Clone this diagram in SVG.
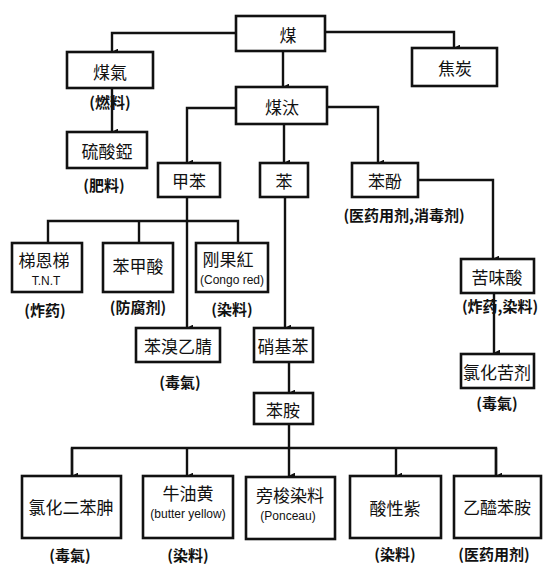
<svg xmlns="http://www.w3.org/2000/svg" width="552" height="567" viewBox="0 0 552 567">
<defs>
<marker id="ah" viewBox="0 0 10 10" refX="5" refY="9" markerWidth="7" markerHeight="7" orient="auto-start-reverse" markerUnits="userSpaceOnUse">
<path d="M0,0 L10,0 L5,10 Z" fill="#111"/>
</marker>
<style>
.b{fill:#fff;stroke:#111;stroke-width:2.6}
.t{font-family:"Noto Sans CJK SC","Noto Sans CJK TC",sans-serif;font-size:17px;fill:#111;text-anchor:middle;dominant-baseline:central}
.s{font-family:"Noto Sans CJK SC","Noto Sans CJK TC",sans-serif;font-size:15px;fill:#111;text-anchor:middle;dominant-baseline:central;font-weight:bold}
.e{font-family:"Liberation Sans",sans-serif;font-size:12px;fill:#111;text-anchor:middle;dominant-baseline:central}
.c{fill:none;stroke:#111;stroke-width:2.4}
.a{fill:none;stroke:#111;stroke-width:2.4;marker-end:url(#ah)}
</style>
</defs>
<rect width="552" height="567" fill="#fff"/>
<g id="connectors">
<path class="a" d="M236,33 H112 V52"/>
<path class="a" d="M325,32 H454 V48"/>
<path class="a" d="M283,51 V87"/>
<path class="a" d="M112,88 V132"/>
<path class="a" d="M236,108 H187 V163"/>
<path class="a" d="M284,124 V163"/>
<path class="a" d="M327,107 H378 V163"/>
<path class="a" d="M417,180 H493 V259"/>
<path class="a" d="M494,293 V353"/>
<path class="c" d="M48,243 V221 H238 V243"/>
<path class="c" d="M139,221 V243"/>
<path class="a" d="M187,197 V328"/>
<path class="a" d="M285,197 V328"/>
<path class="a" d="M289,362 V393"/>
<path class="c" d="M72,476 V448 H496 V476"/>
<path class="a" d="M289,424 V476"/>
<path class="a" d="M72,448 V476"/>
<path class="a" d="M187,448 V476"/>
<path class="a" d="M396,448 V476"/>
<path class="a" d="M496,448 V476"/>
</g>
<g id="n-mei"><rect class="b" x="236" y="16" width="89" height="35"/><text class="t" x="288" y="34" font-size="20">煤</text></g>
<g id="n-meiqi"><rect class="b" x="67" y="52" width="86" height="36"/><text class="t" x="110" y="71" font-size="18">煤氣</text><text class="s" x="110" y="101">(燃料)</text></g>
<g id="n-jiaotan"><rect class="b" x="412" y="48" width="85" height="38"/><text class="t" x="455" y="67">焦炭</text></g>
<g id="n-meitai"><rect class="b" x="236" y="87" width="91" height="37"/><text class="t" x="282" y="106" font-size="19">煤汰</text></g>
<g id="n-liusuanya"><rect class="b" x="67" y="132" width="80" height="36"/><text class="t" x="107" y="150">硫酸錏</text><text class="s" x="104" y="184">(肥料)</text></g>
<g id="n-jiaben"><rect class="b" x="158" y="163" width="62" height="34"/><text class="t" x="189" y="180">甲苯</text></g>
<g id="n-ben"><rect class="b" x="260" y="163" width="48" height="34"/><text class="t" x="284" y="180">苯</text></g>
<g id="n-benfen"><rect class="b" x="352" y="163" width="66" height="34"/><text class="t" x="385" y="180">苯酚</text><text class="s" x="404" y="214">(医药用剂,消毒剂)</text></g>
<g id="n-tnt"><rect class="b" x="12" y="243" width="70" height="49"/><text class="t" x="44" y="259">梯恩梯</text><text class="e" x="46" y="281">T.N.T</text><text class="s" x="45" y="309" font-size="17">(炸药)</text></g>
<g id="n-benjiasuan"><rect class="b" x="103" y="243" width="70" height="49"/><text class="t" x="138" y="265">苯甲酸</text><text class="s" x="138" y="306">(防腐剂)</text></g>
<g id="n-gangguohong"><rect class="b" x="196" y="243" width="72" height="49"/><text class="t" x="228" y="258" font-size="14">刚果紅</text><text class="e" x="232" y="280" font-size="11">(Congo red)</text><text class="s" x="232" y="308">(染料)</text></g>
<g id="n-kuweisuan"><rect class="b" x="461" y="259" width="73" height="34"/><text class="t" x="497" y="276">苦味酸</text><text class="s" x="500" y="305">(炸药,染料)</text></g>
<g id="n-benxiu"><rect class="b" x="136" y="328" width="84" height="34"/><text class="t" x="178" y="345">苯溴乙腈</text><text class="s" x="180" y="381" font-size="17">(毒氣)</text></g>
<g id="n-xiaojiben"><rect class="b" x="254" y="328" width="59" height="34"/><text class="t" x="283" y="345" font-size="15">硝基苯</text></g>
<g id="n-lvhuakuji"><rect class="b" x="461" y="354" width="73" height="34"/><text class="t" x="497" y="371">氯化苦剂</text><text class="s" x="497" y="402">(毒氣)</text></g>
<g id="n-benan"><rect class="b" x="254" y="393" width="59" height="31"/><text class="t" x="283" y="409">苯胺</text></g>
<g id="n-lvhuaerbenshen"><rect class="b" x="22" y="476" width="99" height="62"/><text class="t" x="71" y="506">氯化二苯胂</text><text class="s" x="70" y="554" font-size="17">(毒氣)</text></g>
<g id="n-niuyouhuang"><rect class="b" x="143" y="476" width="90" height="62"/><text class="t" x="188" y="492">牛油黄</text><text class="e" x="188" y="514">(butter yellow)</text><text class="s" x="188" y="554" font-size="17">(染料)</text></g>
<g id="n-pangsuo"><rect class="b" x="246" y="477" width="89" height="62"/><text class="t" x="290" y="494" font-size="15">旁梭染料</text><text class="e" x="288" y="516">(Ponceau)</text></g>
<g id="n-suanxingzi"><rect class="b" x="350" y="476" width="91" height="62"/><text class="t" x="395" y="507" font-size="18">酸性紫</text><text class="s" x="395" y="553" font-size="16">(染料)</text></g>
<g id="n-yixianbenan"><rect class="b" x="454" y="476" width="87" height="62"/><text class="t" x="497" y="506">乙醯苯胺</text><text class="s" x="494" y="553">(医药用剂)</text></g>
</svg>
